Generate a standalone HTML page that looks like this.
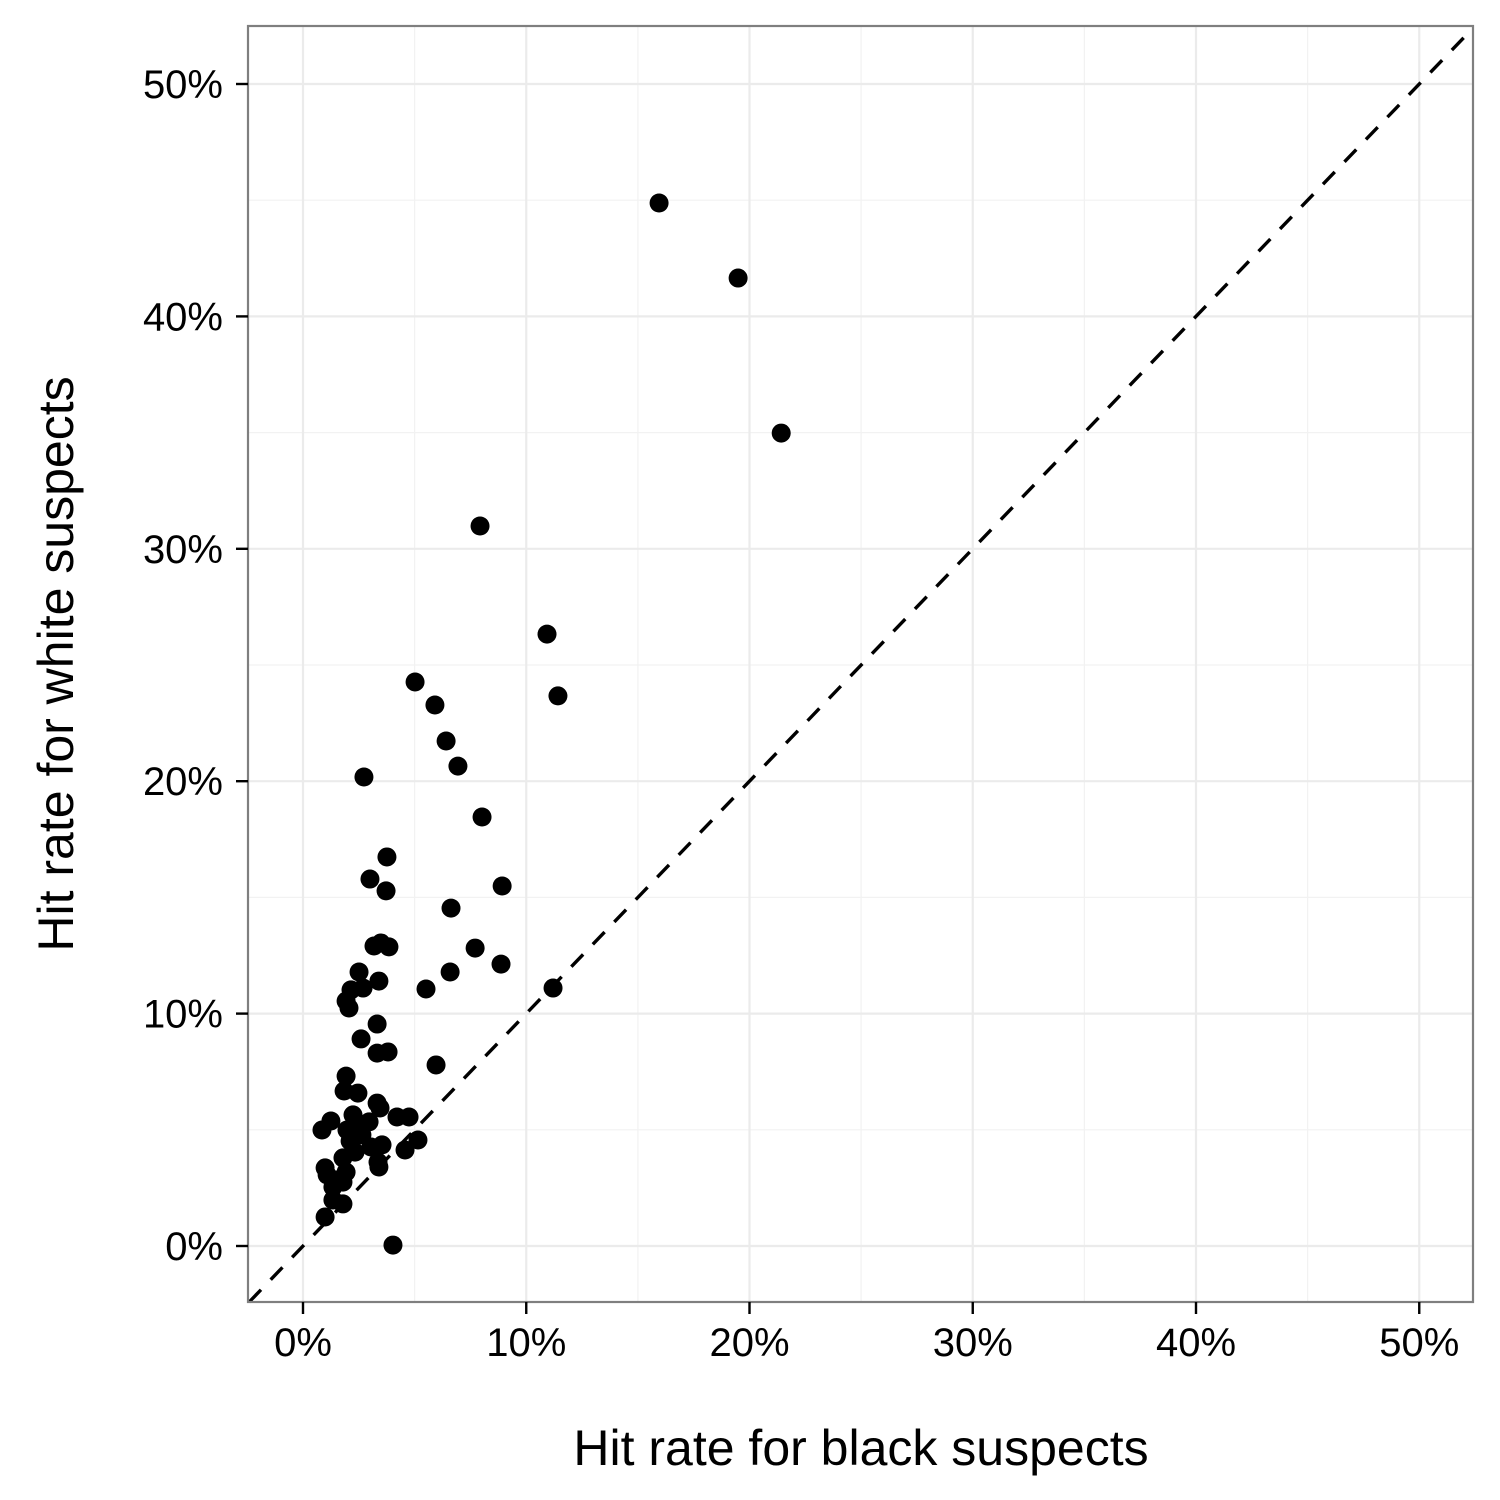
<!DOCTYPE html>
<html><head><meta charset="utf-8">
<style>
html,body{margin:0;padding:0;background:#fff;}
svg{display:block;font-family:"Liberation Sans",sans-serif;}
</style></head>
<body>
<svg id="chart" width="1500" height="1500" viewBox="0 0 1500 1500">
<rect width="1500" height="1500" fill="#fff"/>
</svg>
<script>
const xTicks=[0,10,20,30,40,50];
const yTicks=[0,10,20,30,40,50];
const minorTicks=[5,15,25,35,45];
const tickLabels=["0%","10%","20%","30%","40%","50%"];
const xVals=[15.95,19.49,21.42,7.93,10.93,11.42,5.02,5.91,6.41,6.94,2.73,8.02,3.76,3.00,3.72,8.92,6.63,3.18,3.49,3.85,7.71,8.87,6.59,2.51,3.40,11.20,5.51,2.69,2.15,1.93,2.06,3.32,2.60,3.32,3.81,5.96,1.93,1.84,2.46,3.32,3.45,4.21,4.75,2.24,1.25,2.96,2.46,0.85,1.97,2.64,2.11,3.54,5.15,4.57,3.05,2.33,1.79,3.36,3.40,0.99,1.93,1.08,1.52,1.79,1.34,1.34,1.79,0.99,4.03];
const yVals=[44.88,41.65,34.98,30.98,26.33,23.67,24.27,23.28,21.73,20.65,20.18,18.46,16.74,15.79,15.28,15.49,14.54,12.91,13.04,12.87,12.82,12.13,11.79,11.79,11.40,11.10,11.06,11.10,11.02,10.54,10.24,9.55,8.91,8.30,8.35,7.79,7.31,6.67,6.58,6.15,5.94,5.55,5.55,5.64,5.38,5.34,5.16,4.99,4.99,4.78,4.52,4.35,4.56,4.13,4.26,4.04,3.79,3.61,3.40,3.36,3.18,3.06,2.84,2.75,2.54,1.98,1.81,1.25,0.04];

const NS="http://www.w3.org/2000/svg";
const svg=document.getElementById('chart');
const P={l:248,r:1473,t:26,b:1302};
const sx=v=>303+v*22.325;
const sy=v=>1246-v*23.24;
const invX=px=>(px-303)/22.325;
function mk(tag,attrs,parent){const e=document.createElementNS(NS,tag);for(const k in attrs)e.setAttribute(k,attrs[k]);(parent||svg).appendChild(e);return e;}

const grid=mk('g',{});


minorTicks.forEach(v=>{
  const a=mk('line',{x1:sx(v),x2:sx(v),y1:P.t,y2:P.b,stroke:'#f2f2f2','stroke-width':1.2},grid);
  
  
  const b=mk('line',{x1:P.l,x2:P.r,y1:sy(v),y2:sy(v),stroke:'#f2f2f2','stroke-width':1.2},grid);
  
  
});
xTicks.forEach(v=>{
  const a=mk('line',{x1:sx(v),x2:sx(v),y1:P.t,y2:P.b,stroke:'#ebebeb','stroke-width':2.2},grid);
  
  
});
yTicks.forEach(v=>{
  const b=mk('line',{x1:P.l,x2:P.r,y1:sy(v),y2:sy(v),stroke:'#ebebeb','stroke-width':2.2},grid);
  
  
});

const lo=Math.max(invX(P.l),(1246-P.b)/23.24), hi=Math.min(invX(P.r),(1246-P.t)/23.24);
const diag=mk('line',{x1:sx(lo),y1:sy(lo),x2:sx(hi),y2:sy(hi),stroke:'#000','stroke-width':3.4,'stroke-dasharray':'17 14'});



const pts=mk('g',{});


xVals.forEach((x,i)=>{
  const c=mk('circle',{cx:sx(x),cy:sy(yVals[i]),r:9.5,fill:'#000'},pts);
  
  
});

const border=mk('rect',{x:P.l,y:P.t,width:P.r-P.l,height:P.b-P.t,fill:'none',stroke:'#7f7f7f','stroke-width':2.2});



xTicks.forEach((v,i)=>{
  const t=mk('line',{x1:sx(v),x2:sx(v),y1:P.b,y2:P.b+12,stroke:'#000','stroke-width':2.4});
  
  
  const l=mk('text',{x:sx(v),y:1356,'text-anchor':'middle','font-size':40,fill:'#000'});
  l.textContent=tickLabels[i];
  
  
});
yTicks.forEach((v,i)=>{
  const t=mk('line',{x1:P.l-12,x2:P.l,y1:sy(v),y2:sy(v),stroke:'#000','stroke-width':2.4});
  
  
  const l=mk('text',{x:223,y:sy(v)+14,'text-anchor':'end','font-size':40,fill:'#000'});
  l.textContent=tickLabels[i];
  
  
});

const xt=mk('text',{x:861,y:1465,'text-anchor':'middle','font-size':50,fill:'#000'});
xt.textContent='Hit rate for black suspects';


const yt=mk('text',{x:0,y:0,'text-anchor':'middle','font-size':50,fill:'#000',transform:'translate(73,664) rotate(-90)'});
yt.textContent='Hit rate for white suspects';


</script>
</body></html>
